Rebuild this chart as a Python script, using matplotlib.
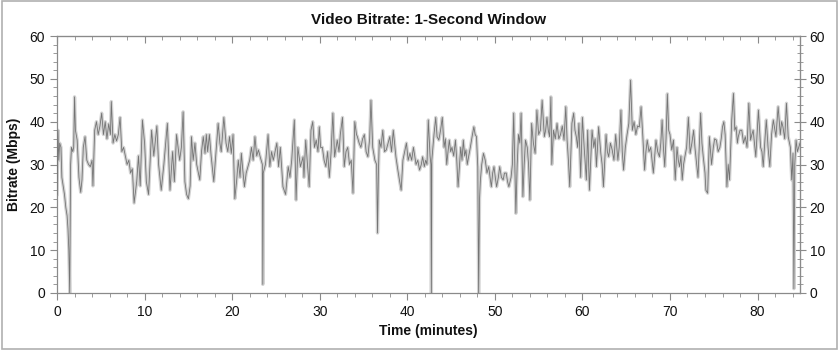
import matplotlib
matplotlib.use("Agg")
import matplotlib.pyplot as plt
from matplotlib.ticker import MultipleLocator
from matplotlib.patches import Rectangle

plt.rcParams['font.family'] = ['Liberation Sans', 'DejaVu Sans']

title = "Video Bitrate: 1-Second Window"
x_label = "Time (minutes)"
y_label = "Bitrate (Mbps)"

time_min = [
    0.0, 0.1, 0.2, 0.3, 0.45, 0.55, 0.7, 0.85, 1.0, 1.15, 1.25, 1.35, 1.45, 1.55, 1.65, 1.8, 1.9, 2.0, 2.1, 2.3,
    2.5, 2.7, 2.85, 3.0, 3.2, 3.4, 3.6, 3.8, 4.0, 4.1, 4.3, 4.5, 4.7, 4.9, 5.1, 5.3, 5.5, 5.7, 5.9, 6.1,
    6.2, 6.4, 6.6, 6.8, 7.0, 7.2, 7.4, 7.6, 7.8, 8.0, 8.2, 8.4, 8.6, 8.8, 9.1, 9.3, 9.5, 9.75, 10.0, 10.2,
    10.45, 10.8, 11.05, 11.4, 11.6, 11.9, 12.2, 12.6, 12.9, 13.2, 13.4, 13.65, 14.0, 14.2, 14.4, 14.6, 14.8, 15.0, 15.2, 15.35,
    15.55, 15.75, 15.95, 16.3, 16.5, 16.7, 16.9, 17.05, 17.2, 17.4, 17.6, 17.9, 18.2, 18.4, 18.6, 18.75, 19.05, 19.3, 19.5, 19.7,
    19.9, 20.1, 20.3, 20.5, 20.7, 20.9, 21.05, 21.2, 21.4, 21.6, 21.8, 22.0, 22.2, 22.4, 22.6, 22.8, 23.0, 23.2, 23.45, 23.5,
    23.55, 23.8, 24.1, 24.3, 24.5, 24.7, 24.9, 25.1, 25.3, 25.5, 25.8, 26.1, 26.4, 26.6, 26.8, 27.1, 27.3, 27.5, 27.8, 28.1,
    28.2, 28.4, 28.6, 28.8, 29.0, 29.2, 29.4, 29.6, 29.8, 29.95, 30.1, 30.3, 30.5, 30.7, 30.9, 31.1, 31.3, 31.5, 31.7, 32.0,
    32.2, 32.35, 32.6, 32.8, 33.0, 33.2, 33.4, 33.6, 33.8, 34.0, 34.2, 34.3, 34.5, 34.7, 34.9, 35.1, 35.3, 35.5, 35.7, 35.85,
    36.05, 36.3, 36.5, 36.6, 36.7, 36.8, 37.0, 37.2, 37.4, 37.6, 37.8, 38.0, 38.2, 38.4, 38.55, 38.7, 38.9, 39.1, 39.3, 39.5,
    39.7, 39.9, 40.1, 40.3, 40.5, 40.7, 40.85, 41.0, 41.2, 41.4, 41.6, 41.75, 41.95, 42.1, 42.25, 42.4, 42.6, 42.7, 42.75, 42.8,
    43.05, 43.25, 43.4, 43.6, 43.8, 44.0, 44.2, 44.35, 44.5, 44.65, 44.8, 44.95, 45.1, 45.3, 45.5, 45.65, 45.8, 46.1, 46.25, 46.4,
    46.55, 46.7, 46.85, 47.0, 47.2, 47.4, 47.6, 47.75, 47.9, 48.05, 48.15, 48.25, 48.35, 48.5, 48.7, 48.9, 49.1, 49.3, 49.45, 49.6,
    49.75, 49.9, 50.05, 50.2, 50.4, 50.55, 50.75, 50.95, 51.1, 51.3, 51.45, 51.6, 51.85, 52.0, 52.15, 52.3, 52.4, 52.55, 52.7, 52.85,
    53.0, 53.2, 53.35, 53.5, 53.7, 53.85, 54.0, 54.2, 54.4, 54.6, 54.8, 55.0, 55.2, 55.4, 55.65, 55.8, 55.95, 56.1, 56.25, 56.4,
    56.5, 56.7, 56.9, 57.1, 57.3, 57.5, 57.7, 57.9, 58.1, 58.25, 58.4, 58.55, 58.8, 59.0, 59.15, 59.3, 59.45, 59.6, 59.8, 60.0,
    60.2, 60.45, 60.6, 60.8, 61.1, 61.3, 61.45, 61.6, 61.85, 62.1, 62.25, 62.4, 62.7, 62.85, 63.0, 63.2, 63.4, 63.6, 63.8, 64.05,
    64.2, 64.4, 64.55, 64.7, 64.9, 65.1, 65.3, 65.5, 65.7, 65.9, 66.1, 66.3, 66.5, 66.7, 66.9, 67.1, 67.25, 67.4, 67.6, 67.8,
    67.95, 68.1, 68.25, 68.4, 68.6, 68.8, 68.95, 69.1, 69.25, 69.4, 69.55, 69.7, 69.85, 70.0, 70.2, 70.4, 70.6, 70.8, 70.95, 71.1,
    71.25, 71.4, 71.55, 71.7, 71.9, 72.1, 72.3, 72.5, 72.7, 72.85, 73.0, 73.2, 73.5, 73.65, 73.8, 74.0, 74.1, 74.3, 74.5, 74.75,
    74.95, 75.1, 75.3, 75.5, 75.7, 75.85, 76.0, 76.15, 76.3, 76.5, 76.65, 76.8, 77.05, 77.25, 77.4, 77.55, 77.7, 77.8, 78.0, 78.2,
    78.4, 78.6, 78.8, 79.0, 79.2, 79.35, 79.5, 79.65, 79.8, 80.1, 80.35, 80.5, 80.65, 80.85, 81.0, 81.2, 81.4, 81.6, 81.8, 82.1,
    82.35, 82.6, 82.75, 82.9, 83.1, 83.3, 83.5, 83.75, 83.9, 84.05, 84.15, 84.25, 84.4, 84.55, 84.7, 84.85,
]

bitrate_mbps = [
    23, 38, 31, 35, 34, 27, 25, 23, 20, 18, 15, 10, 0, 30, 34, 33, 34, 45.8, 38, 35.7,
    27, 23.5, 26.4, 34, 36.5, 31, 30, 29.5, 31, 25, 38, 40, 37, 39, 42, 37, 40, 36, 39.5, 37,
    44.7, 35, 37, 35.5, 37, 41, 33, 34, 32, 30, 31, 28, 29, 21, 26, 32, 25, 40.4, 35, 26,
    23, 38, 32, 39, 30, 24, 30, 39.6, 24, 33, 26, 37, 31, 34, 42.3, 26, 23, 22, 25, 36.5,
    31, 35, 30, 26.4, 33, 36.5, 32.6, 37, 33, 37, 32, 26, 34, 39.6, 35, 33, 41, 35, 33, 36.5,
    32.6, 37, 22, 26, 31, 27, 32.6, 29, 24.8, 28, 29.5, 31, 34, 31, 36.5, 32, 33.4, 31.8, 30, 2,
    28, 30, 37, 29.5, 33, 31, 33, 35, 29.5, 34, 24.8, 23, 29.5, 27, 31, 40.4, 21.7, 34, 29.5, 31.8,
    27, 35.7, 30, 24.8, 38, 40, 34, 35.7, 33, 38.8, 34, 34, 31, 29.5, 33, 27, 33, 42, 31.8, 35.7,
    33, 37, 41, 29.5, 33, 34, 30, 31, 23.3, 40, 37, 36.5, 35, 34, 36, 37, 33, 31.8, 36, 45,
    34, 31, 30, 14, 28, 35.7, 34, 38, 33, 33.4, 35, 36.5, 33, 38, 35, 31.8, 29, 26.4, 24, 31,
    33, 35, 31, 32.6, 31, 34, 32, 30, 31, 28.7, 30, 31.8, 29.5, 31, 30, 40.4, 32, 30, 0, 31,
    37, 41, 36.5, 35.7, 38, 41, 34, 36, 30, 33, 35.7, 33, 34, 32, 35.7, 31, 24.8, 34, 31, 35.7,
    32, 33.4, 30, 31.8, 34, 36.5, 38.8, 37, 36.5, 29.5, 0, 22, 26.4, 30, 32.6, 31, 28, 29.5, 27, 24.8,
    28, 29.5, 27, 24.8, 27, 29.5, 27, 26.4, 28, 28, 26, 24.8, 27, 30, 42, 28, 18.6, 30, 37, 35,
    42, 22.5, 30, 35.7, 34, 30, 21.7, 39.6, 35, 32.6, 42.7, 37, 38, 45, 36.5, 38, 41, 38, 36.5, 45.8,
    30, 38, 36, 39.6, 36, 37, 39, 35.7, 43.5, 35.7, 31, 24.8, 39.6, 42, 38, 36.5, 34, 39.6, 27, 41,
    34, 26.4, 38, 24, 38, 34, 36, 29.5, 38.8, 32.6, 30, 24.8, 37, 33, 31.8, 35, 33.4, 31, 37, 31,
    34, 42.7, 33, 28.7, 34, 37, 39.6, 49.7, 38, 40, 37, 39, 38.8, 43.5, 36.5, 28.7, 33, 35.7, 33, 34,
    31, 28, 32, 35.7, 33, 31.8, 35, 40.4, 34, 29.5, 36, 46.5, 38, 37, 33.4, 35.7, 26.4, 34, 31, 29.5,
    32, 26.4, 30, 31.8, 34, 41, 32.6, 35, 38, 34, 31, 27, 42, 35, 31.8, 28, 24, 23.3, 36.5, 30,
    34, 36, 35.7, 33, 34, 36, 38.8, 40, 37, 24.8, 30, 26.4, 40.4, 46.6, 38, 38.8, 35, 36.5, 38, 38,
    35, 36.5, 34, 44.3, 35.7, 37, 38, 35, 31.8, 42.7, 34, 33, 29.5, 36, 40.4, 34, 29.5, 37, 40.4, 36.5,
    43.5, 37, 40, 38.8, 36, 44.3, 36.5, 34, 26.4, 32.6, 1, 30, 35.7, 33, 34, 35,
]

x_ticks = [0, 10, 20, 30, 40, 50, 60, 70, 80]
y_ticks = [0, 10, 20, 30, 40, 50, 60]

fig = plt.figure(figsize=(8.4, 3.5), dpi=100)
ax = fig.add_axes([0.0679, 0.163, 0.8845, 0.734])

ax.plot(time_min, bitrate_mbps, color="#d2d2d2", linewidth=2.4, solid_joinstyle="round", zorder=2)
ax.plot(time_min, bitrate_mbps, color="#747474", linewidth=0.6, zorder=3)

ax.set_xlim(0, 84.85)
ax.set_ylim(0, 60)
ax.set_xticks(x_ticks)
ax.set_yticks(y_ticks)
ax.xaxis.set_minor_locator(MultipleLocator(2))
ax.yaxis.set_minor_locator(MultipleLocator(2))

spine_col = "#8a8a8a"
for s in ax.spines.values():
    s.set_color(spine_col)
    s.set_linewidth(0.9)

ax.tick_params(axis="both", which="both", colors=spine_col, labelcolor="#111111", labelsize=10)
ax.tick_params(axis="both", which="major", direction="out", length=5)
ax.tick_params(axis="both", which="minor", direction="out", length=3)
ax.tick_params(axis="x", which="both", top=False)
ax.tick_params(axis="y", which="both", right=False)

top = ax.secondary_xaxis("top")
top.set_xticks(x_ticks)
top.xaxis.set_minor_locator(MultipleLocator(2))
top.tick_params(axis="x", which="both", direction="in", colors=spine_col, labeltop=False)
top.tick_params(axis="x", which="major", length=5)
top.tick_params(axis="x", which="minor", length=3)
top.spines["top"].set_color(spine_col)

right = ax.secondary_yaxis("right")
right.set_yticks(y_ticks)
right.yaxis.set_minor_locator(MultipleLocator(2))
right.tick_params(axis="y", which="both", direction="inout", colors=spine_col, labelcolor="#111111", labelsize=10)
right.tick_params(axis="y", which="major", length=8, pad=3)
right.tick_params(axis="y", which="minor", length=5)
right.spines["right"].set_color(spine_col)

ax.set_title(title, fontsize=11, fontweight="bold", pad=9, color="#111111")
ax.set_xlabel(x_label, fontsize=10, fontweight="bold", color="#111111", labelpad=4)
ax.set_ylabel(y_label, fontsize=10, fontweight="bold", color="#111111", labelpad=6)

fig.patches.append(Rectangle((0.002, 0.003), 0.995, 0.993, transform=fig.transFigure,
                             fill=False, edgecolor="#b0b0b0", linewidth=1.2))

fig.savefig("out.png", dpi=100, facecolor="white")
